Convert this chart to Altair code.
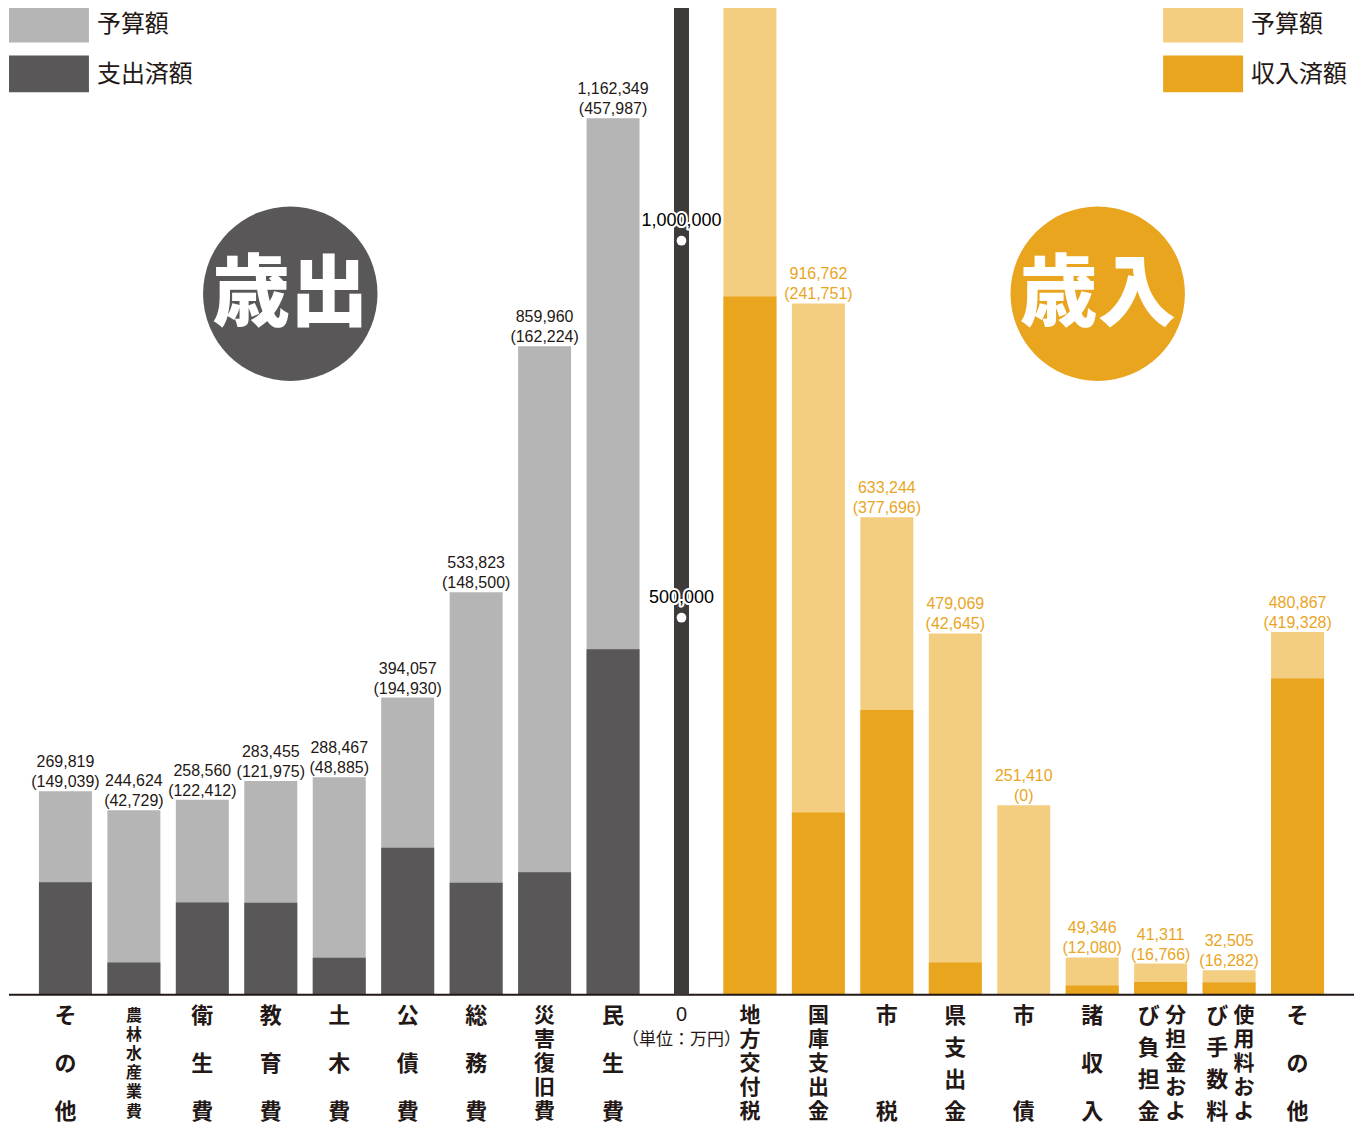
import altair as alt
import pandas as pd

# ---------------- data ----------------
left_names = ["その他", "農林水産業費", "衛生費", "教育費", "土木費", "公債費", "総務費", "災害復旧費", "民生費"]
left_budget = [269819, 244624, 258560, 283455, 288467, 394057, 533823, 859960, 1162349]
left_spent = [149039, 42729, 122412, 121975, 48885, 194930, 148500, 162224, 457987]

right_names = ["地方交付税", "国庫支出金", "市税", "県支出金", "市債", "諸収入",
               "分担金および負担金", "使用料および手数料", "その他"]
right_budget = [1450000, 916762, 633244, 479069, 251410, 49346, 41311, 32505, 480867]
right_received = [926000, 241751, 377696, 42645, 0, 12080, 16766, 16282, 419328]

tick_values = [500000, 1000000]
legend_left = ["予算額", "支出済額"]
legend_right = ["予算額", "収入済額"]
title_left = "歳出"
title_right = "歳入"
zero_label = "0"
unit_label = "（単位：万円）"

# ---------------- styles ----------------
GRAY = "#b5b5b5"
DARK = "#595757"
LIGHT = "#f3cd80"
ORANGE = "#e9a51e"
AXIS = "#3e3a39"
INK = "#231815"
NUM = "Liberation Sans"
JP = "Noto Sans CJK JP"

W, H = 1354, 995
YMAX = 1318700

# ---------------- tables ----------------
lkeys = [f"L{i}" for i in range(len(left_names))]
rkeys = [f"R{i}" for i in range(len(right_names))]
keys = lkeys + ["C"] + rkeys

rows = []
for k, n, b, s in zip(lkeys, left_names, left_budget, left_spent):
    rows.append(dict(key=k, name=n, budget=b, spent=s, side="L"))
for k, n, b, s in zip(rkeys, right_names, right_budget, right_received):
    rows.append(dict(key=k, name=n, budget=b, spent=s, side="R"))
bars = pd.DataFrame(rows)


def columns(name):
    if "および" in name:
        i = name.index("び")
        return [(name[:i], 15), (name[i:], -12)]
    return [(name, 0)]


char_rows = []
for k, name in zip(lkeys + rkeys, left_names + right_names):
    for text, off in columns(name):
        n = len(text)
        for i, ch in enumerate(text):
            char_rows.append(dict(key=k, ch=ch, pos=i / (n - 1) if n > 1 else 0.0, off=off, n=n))
chars = pd.DataFrame(char_rows)

center_df = pd.DataFrame({"key": ["C"], "lo": [0], "hi": [YMAX]})
ticks_df = pd.DataFrame({"key": ["C"] * len(tick_values), "v": tick_values})
zero_df = pd.DataFrame({"key": ["C"], "v": [0], "t": [zero_label], "u": [unit_label]})
one = pd.DataFrame({"k": [0]})

# ---------------- scales ----------------
xs = alt.Scale(domain=keys, paddingInner=0.226, paddingOuter=0.496, align=0.441)
ys = alt.Scale(domain=[0, YMAX])
X = alt.X("key:N", scale=xs, axis=None)

side_fill_b = alt.condition("datum.side == 'L'", alt.value(GRAY), alt.value(LIGHT))
side_fill_s = alt.condition("datum.side == 'L'", alt.value(DARK), alt.value(ORANGE))
side_text = alt.condition("datum.side == 'L'", alt.value(INK), alt.value(ORANGE))

base = alt.Chart(bars)
budget_bar = base.mark_bar(clip=True).encode(
    X, y=alt.Y("budget:Q", scale=ys, axis=None), color=side_fill_b)
spent_bar = base.mark_bar(clip=True).encode(
    X, y=alt.Y("spent:Q", scale=ys, axis=None), color=side_fill_s)

lab = base.transform_filter(f"datum.budget < {YMAX}").transform_calculate(
    l2="'(' + format(datum.spent, ',') + ')'")
lab1 = lab.mark_text(font=NUM, fontSize=16, baseline="alphabetic", dy=-24).encode(
    X, y=alt.Y("budget:Q", scale=ys, axis=None),
    text=alt.Text("budget:Q", format=","), color=side_text)
lab2 = lab.mark_text(font=NUM, fontSize=16, baseline="alphabetic", dy=-4).encode(
    X, y=alt.Y("budget:Q", scale=ys, axis=None), text="l2:N", color=side_text)

center_bar = alt.Chart(center_df).mark_bar(color=AXIS, size=15).encode(
    X, y=alt.Y("lo:Q", scale=ys, axis=None), y2="hi:Q")
dots = alt.Chart(ticks_df).mark_circle(color="white", opacity=1, size=95).encode(
    X, y=alt.Y("v:Q", scale=ys, axis=None))
tick_halo = alt.Chart(ticks_df).mark_text(
    font=NUM, fontSize=18, baseline="alphabetic", dy=-15,
    stroke="white", strokeWidth=4, strokeJoin="round", color="white").encode(
    X, y=alt.Y("v:Q", scale=ys, axis=None), text=alt.Text("v:Q", format=","))
tick_text = alt.Chart(ticks_df).mark_text(
    font=NUM, fontSize=18, baseline="alphabetic", dy=-15, color="black").encode(
    X, y=alt.Y("v:Q", scale=ys, axis=None), text=alt.Text("v:Q", format=","))

baseline = alt.Chart(zero_df).mark_rule(color=INK, strokeWidth=2).encode(
    x=alt.value(0), x2=alt.value(1346), y=alt.Y("v:Q", scale=ys, axis=None))

zero_text = alt.Chart(zero_df).mark_text(font=NUM, fontSize=20, baseline="middle",
                                         color=INK).encode(X, y=alt.value(1015), text="t:N")
unit_text = alt.Chart(zero_df).mark_text(font=JP, fontSize=17, baseline="middle",
                                         color=INK).encode(X, y=alt.value(1040), text="u:N")

# title circles
circ_l = alt.Chart(one).mark_circle(size=30480, color=DARK, opacity=1).encode(
    x=alt.value(281.5), y=alt.value(293.5))
circ_r = alt.Chart(one).mark_circle(size=30480, color=ORANGE, opacity=1).encode(
    x=alt.value(1089.5), y=alt.value(293.5))
tl_df = pd.DataFrame({"t": [title_left]})
tr_df = pd.DataFrame({"t": [title_right]})
circ_lt = alt.Chart(tl_df).mark_text(font=JP, fontSize=78, fontWeight=900, color="white",
                                     baseline="middle").encode(
    x=alt.value(281.5), y=alt.value(297), text="t:N")
circ_rt = alt.Chart(tr_df).mark_text(font=JP, fontSize=78, fontWeight=900, color="white",
                                     baseline="middle").encode(
    x=alt.value(1089.5), y=alt.value(297), text="t:N")


# legends
def legend_item(label, color, x0, y0):
    sw = alt.Chart(one).mark_rect(color=color).encode(
        x=alt.value(x0), x2=alt.value(x0 + 80), y=alt.value(y0), y2=alt.value(y0 + 37))
    tx = alt.Chart(pd.DataFrame({"t": [label]})).mark_text(
        font=JP, fontSize=24, align="left", baseline="middle", color=INK).encode(
        x=alt.value(x0 + 88), y=alt.value(y0 + 19.5), text="t:N")
    return [sw, tx]


legend_layers = []
legend_layers += legend_item(legend_left[0], GRAY, 0, 5)
legend_layers += legend_item(legend_left[1], DARK, 0, 55)
legend_layers += legend_item(legend_right[0], LIGHT, 1155, 5)
legend_layers += legend_item(legend_right[1], ORANGE, 1155, 55)


# vertical category labels (one character per row, spread over the label band)
def char_layer(cond, off, size):
    return alt.Chart(chars).transform_filter(cond).transform_calculate(
        py="1016 + datum.pos * 96").mark_text(
        font=JP, fontSize=size, fontWeight="bold", color=INK, dx=off, baseline="middle").encode(
        X, y=alt.Y("py:Q", scale=None, axis=None), text="ch:N")


char_layers = [
    char_layer("datum.off == 0 && datum.n <= 4", 0, 22),
    char_layer("datum.off == 0 && datum.n == 5", 0, 21),
    char_layer("datum.off == 0 && datum.n >= 6", 0, 16),
    char_layer("datum.off == 15", 15, 21),
    char_layer("datum.off == -12", -12, 22),
]

chart = alt.layer(budget_bar, spent_bar, lab1, lab2, baseline, center_bar, dots,
                  tick_halo, tick_text, zero_text, unit_text,
                  circ_l, circ_r, circ_lt, circ_rt, *legend_layers, *char_layers).properties(
    width=W, height=H, padding={"left": 0, "top": -8, "right": 0, "bottom": 3}
).configure_view(stroke=None)

chart.save("out.html", embed_options={"renderer": "svg", "actions": False})
